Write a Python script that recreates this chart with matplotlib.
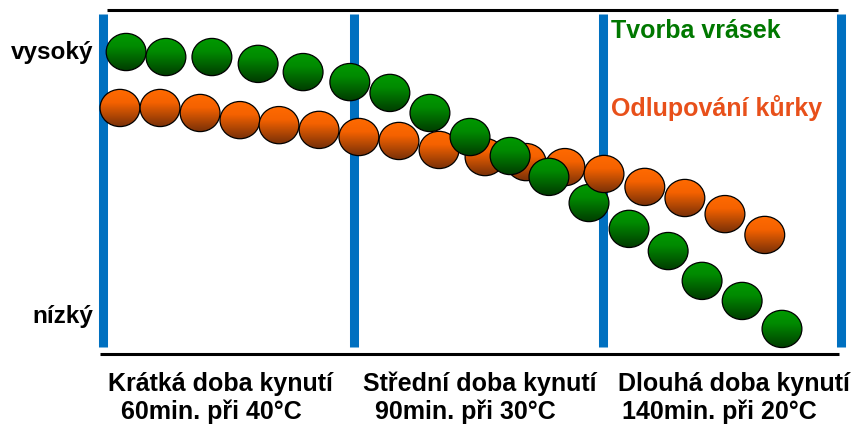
import matplotlib
matplotlib.use("Agg")
import matplotlib.pyplot as plt
from matplotlib.patches import Ellipse
from matplotlib.colors import LinearSegmentedColormap
import numpy as np

plt.rcParams['font.family'] = ['Liberation Sans', 'DejaVu Sans']
plt.rcParams['font.weight'] = 'bold'

# x: proofing time in sections (0..3), y: level (0 = nizky, 1 = vysoky)
wrinkle_x = [0.092, 0.254, 0.441, 0.629, 0.812, 1.002, 1.165, 1.328, 1.491,
             1.654, 1.812, 1.975, 2.138, 2.297, 2.435, 2.598, 2.760]
wrinkle_y = [1.000, 0.981, 0.981, 0.955, 0.924, 0.886, 0.845, 0.769, 0.678,
             0.606, 0.527, 0.428, 0.330, 0.246, 0.133, 0.057, -0.049]

peel_x = [0.067, 0.230, 0.393, 0.555, 0.714, 0.877, 1.039, 1.202, 1.365,
          1.552, 1.719, 1.877, 2.036, 2.202, 2.365, 2.528, 2.690]
peel_y = [0.788, 0.788, 0.769, 0.742, 0.723, 0.705, 0.678, 0.663, 0.629,
          0.602, 0.583, 0.564, 0.538, 0.489, 0.447, 0.386, 0.307]
peel_front = 12  # this one sits on top of the green dots

section_edges = [0.0, 1.021, 2.030, 3.0]
level_labels = ['vysoký', 'nízký']
level_values = [1.0, 0.0]
section_titles = ['Krátká doba kynutí', 'Střední doba kynutí', 'Dlouhá doba kynutí']
section_times = ['60min. při 40°C', '90min. při 30°C', '140min. při 20°C']
series_names = ['Tvorba vrásek', 'Odlupování kůrky']

BLUE = '#0070c0'
DOT_W, DOT_H = 0.162, 0.141

green_cmap = LinearSegmentedColormap.from_list(
    'g', [(0, '#009a00'), (0.35, '#008a00'), (1, '#003c00')])
orange_cmap = LinearSegmentedColormap.from_list(
    'o', [(0, '#ff6a00'), (0.35, '#f56200'), (1, '#783008')])
grad = np.linspace(0, 1, 64).reshape(-1, 1)


def draw_dot(ax, x, y, cmap, z):
    ell = Ellipse((x, y), DOT_W, DOT_H, facecolor='none', edgecolor='none')
    ax.add_patch(ell)
    im = ax.imshow(grad, cmap=cmap, aspect='auto', origin='upper',
                   extent=(x - DOT_W / 2, x + DOT_W / 2, y - DOT_H / 2, y + DOT_H / 2),
                   zorder=z, interpolation='bilinear')
    im.set_clip_path(ell)
    ax.add_patch(Ellipse((x, y), DOT_W, DOT_H, facecolor='none',
                         edgecolor='black', linewidth=0.9, zorder=z + 0.001))


fig = plt.figure(figsize=(8.53, 4.25), dpi=100)
ax = fig.add_axes([0, 0, 1, 1])
ax.set_axis_off()

# section borders and frame lines
ax.vlines(section_edges, -0.117, 1.144, colors=BLUE, linewidth=6.5, zorder=1)
ax.hlines(1.159, 0.014, 2.988, colors='black', linewidth=2.2, zorder=1)
ax.hlines(-0.144, -0.014, 2.992, colors='black', linewidth=2.2, zorder=1)

for i, (x, y) in enumerate(zip(peel_x, peel_y)):
    z = 4 if i == peel_front else 2 + i * 0.01
    draw_dot(ax, x, y, orange_cmap, z)
for i, (x, y) in enumerate(zip(wrinkle_x, wrinkle_y)):
    draw_dot(ax, x, y, green_cmap, 3 + i * 0.01)

# level labels
for lab, lv in zip(level_labels, level_values):
    ax.text(-0.043, lv - 0.026, lab, ha='right', va='baseline',
            fontsize=17.5, color='black')

# series names
ax.text(2.064, 1.054, series_names[0], ha='left', va='baseline',
        fontsize=18, color='#007800')
ax.text(2.064, 0.758, series_names[1], ha='left', va='baseline',
        fontsize=18, color='#e8501a')

# section captions
title_x = [0.018, 1.056, 2.093]
time_x = [0.071, 1.104, 2.109]
for tx, mx, t, m in zip(title_x, time_x, section_titles, section_times):
    ax.text(tx, -0.284, t, ha='left', va='baseline', fontsize=18, color='black')
    ax.text(mx, -0.391, m, ha='left', va='baseline', fontsize=18, color='black')

ax.set_xlim(-0.4210, 3.0489)
ax.set_ylim(-0.4129, 1.1970)

fig.savefig('out.png', dpi=100, facecolor='white')
